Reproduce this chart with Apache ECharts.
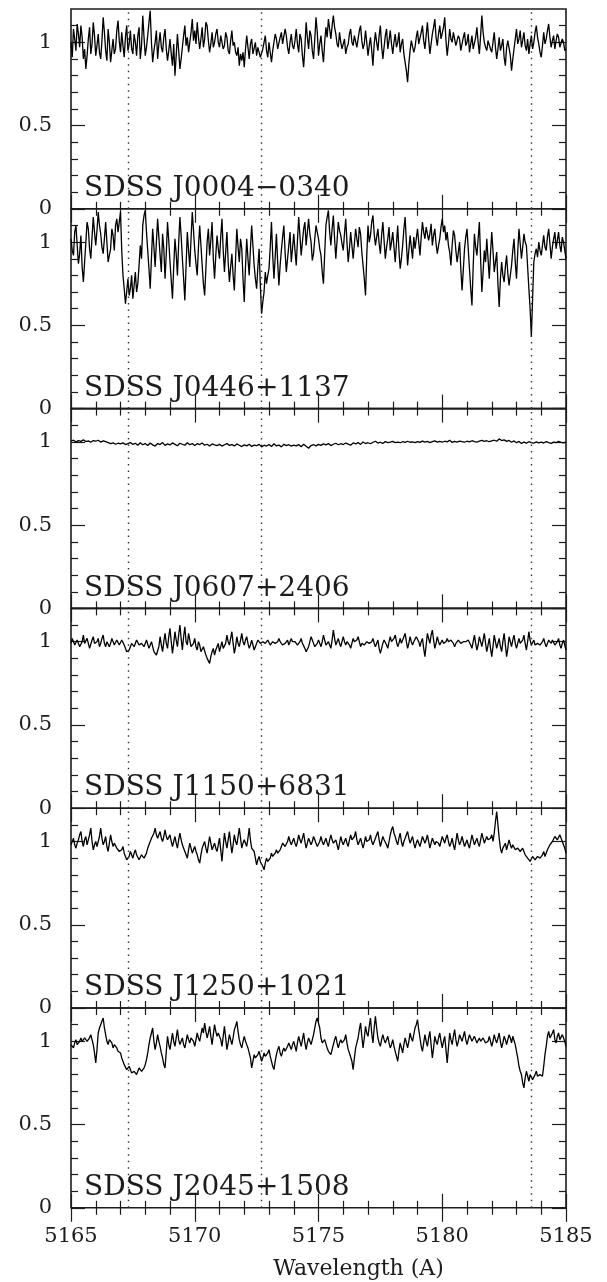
<!DOCTYPE html>
<html><head><meta charset="utf-8">
<script src="https://cdn.jsdelivr.net/npm/echarts@6/dist/echarts.min.js"></script>
<style>html,body{margin:0;padding:0;background:#fff}#c{width:607px;height:1282px}</style>
</head><body><div id="c"></div>
<script>
// ---------- data ----------
const waveStart = 5165;                                  // first sample (Angstrom)
const waveSteps = [0.05, 0.05, 0.1, 0.05, 0.05, 0.05];   // sampling of each spectrum (Angstrom)
const starNames = ['SDSS J0004\u22120340','SDSS J0446+1137','SDSS J0607+2406','SDSS J1150+6831','SDSS J1250+1021','SDSS J2045+1508'];
const mgLines = [5167.32, 5172.68, 5183.60];
const xMajorTicks = [5165, 5170, 5175, 5180, 5185];
const xMinorTicks = [5166,5167,5168,5169,5171,5172,5173,5174,5176,5177,5178,5179,5181,5182,5183,5184];
const yMajorTicks = [0, 0.5, 1];
const yMinorTicks = [0.1,0.2,0.3,0.4,0.6,0.7,0.8,0.9,1.1];

const fluxJ0004 = [
1.00,0.91,1.08,1.02,0.95,1.11,1.05,0.97,1.10,1.03,0.90,0.96,0.84,0.92,1.02,1.09,0.93,0.99,1.12,1.04,
0.92,0.98,1.05,0.94,0.90,1.01,1.15,1.06,0.95,0.89,1.08,1.00,0.88,0.95,1.02,0.93,0.96,1.07,1.13,1.01,
0.94,1.06,0.98,0.91,1.03,1.10,0.95,0.99,1.07,0.96,0.93,1.05,1.00,0.92,1.04,1.09,0.90,0.98,1.16,1.03,
0.92,0.97,1.04,1.12,1.19,1.00,0.88,0.95,1.00,1.07,0.90,0.99,1.06,0.97,0.94,1.03,1.08,0.96,0.89,0.95,
1.02,0.93,0.86,0.99,0.80,0.92,1.05,0.95,0.84,0.90,0.97,1.04,1.10,0.98,1.03,0.94,0.95,1.06,1.14,1.01,
1.07,0.99,1.12,1.03,0.96,1.02,1.09,0.97,1.02,1.12,1.10,1.01,0.94,0.99,1.06,0.97,1.00,1.05,1.08,1.00,
0.97,1.04,1.05,0.96,0.98,1.06,1.03,0.95,0.93,1.01,1.07,0.98,1.00,0.94,0.92,0.97,0.86,0.93,0.89,0.94,
0.85,0.96,1.04,0.97,0.90,0.99,1.02,0.93,0.94,1.00,0.92,0.97,0.98,0.91,0.90,0.96,1.00,1.04,0.95,0.91,
1.00,0.94,0.88,0.95,0.96,1.05,1.02,0.96,0.97,1.03,1.06,0.99,0.98,1.08,1.04,0.97,0.93,1.00,1.05,0.98,
0.96,1.01,1.08,0.99,0.94,1.05,1.02,0.92,0.85,0.97,1.12,1.03,0.96,1.07,1.04,0.95,0.90,1.02,1.15,1.06,
0.92,0.99,1.04,0.95,0.88,1.00,1.09,1.03,1.14,1.08,1.02,1.10,1.16,1.09,1.05,0.99,0.97,1.06,1.00,0.96,
0.95,1.02,0.93,0.97,0.99,1.05,1.08,1.00,0.98,1.04,1.05,0.97,1.02,1.07,1.10,1.01,0.96,0.99,1.07,1.00,
0.92,0.98,1.03,0.95,0.86,0.99,1.06,1.00,0.95,1.04,1.10,0.98,0.90,0.97,1.04,1.08,0.96,1.01,1.07,0.99,
0.93,1.00,1.05,0.97,1.00,1.06,0.94,0.99,1.02,0.93,0.88,0.83,0.76,0.87,0.95,1.01,1.02,0.94,0.97,1.03,
1.07,0.99,1.00,1.06,1.10,1.01,0.96,1.04,1.12,1.02,0.93,0.99,1.05,1.09,1.14,1.03,0.98,1.05,1.10,1.02,
1.03,1.09,1.15,1.01,0.92,0.99,1.08,1.02,1.00,1.06,1.05,0.98,0.97,1.04,1.02,0.95,0.96,1.03,1.06,0.98,
1.00,1.05,0.94,0.99,1.04,0.96,0.97,1.03,1.09,1.00,0.93,1.04,1.16,1.06,1.00,0.97,0.95,1.01,1.02,0.96,
0.94,1.00,1.06,0.97,0.90,0.96,1.03,0.95,0.98,1.02,0.91,0.86,0.97,1.01,1.00,0.92,0.83,0.90,0.96,1.02,
1.08,0.99,1.02,1.07,0.97,1.01,1.06,0.98,0.95,1.02,0.93,0.99,1.04,0.96,1.00,1.06,1.10,1.03,0.99,0.94,
0.91,0.98,1.06,0.99,1.02,1.07,1.11,1.03,0.97,1.01,1.04,0.96,1.01,1.05,1.03,0.97,0.98,1.02,1.00,0.95,0.96];

const fluxJ0446 = [
1.02,0.95,0.92,1.06,1.10,0.98,0.87,0.93,1.04,0.85,0.76,0.88,1.00,1.12,1.08,0.96,0.90,1.03,1.15,1.06,
0.98,1.07,1.18,1.10,1.05,0.97,0.93,1.02,1.12,1.00,0.88,0.92,0.96,1.08,1.04,0.95,1.10,1.14,1.06,1.12,
1.18,0.95,0.80,0.72,0.63,0.70,0.78,0.68,0.72,0.80,0.66,0.74,0.82,0.70,0.75,0.86,0.98,0.90,1.10,1.16,
1.19,1.06,0.95,0.84,0.72,0.90,1.08,0.97,0.85,1.00,1.14,1.03,0.92,0.82,1.05,0.96,0.78,0.93,1.12,1.01,
0.88,0.77,0.66,0.85,1.02,0.93,0.80,0.99,1.15,1.04,0.90,0.78,0.65,0.86,1.06,0.95,0.85,1.02,1.18,1.07,
0.95,0.87,0.80,0.97,1.10,0.98,0.86,0.75,0.68,0.84,1.00,1.08,0.92,1.01,1.12,0.90,0.78,0.92,1.04,0.96,
0.90,1.03,1.14,0.95,0.82,0.94,1.06,0.88,0.76,0.85,0.93,0.80,0.71,0.90,1.08,0.97,0.88,1.02,0.96,0.78,
0.64,0.85,1.02,0.90,0.80,0.96,1.10,0.98,0.86,0.78,0.72,0.85,0.96,0.74,0.57,0.64,0.70,0.82,0.75,0.80,
0.84,0.97,1.12,0.92,0.78,0.91,1.05,0.88,0.74,0.86,0.95,1.03,1.10,0.94,0.82,0.90,0.98,1.06,0.88,0.96,
1.05,0.95,0.86,1.01,1.15,1.04,0.92,1.00,1.08,1.12,0.98,1.06,1.14,1.05,1.00,0.89,0.93,1.02,1.10,1.06,
1.02,0.96,0.92,0.82,0.75,0.93,1.10,1.15,1.19,1.06,0.98,1.08,1.16,1.02,0.90,1.01,1.12,1.07,1.04,0.99,
0.95,1.05,1.14,1.00,0.88,0.96,1.06,0.98,0.90,0.99,1.08,1.02,0.97,1.09,1.05,0.94,0.86,0.78,0.68,0.92,
1.10,1.00,1.04,1.12,1.16,1.05,0.98,1.03,1.08,0.99,0.93,1.04,1.12,1.01,0.90,0.97,1.02,1.09,0.95,1.00,
1.06,0.97,0.88,0.99,1.10,0.95,0.84,0.90,0.98,1.08,1.15,1.00,0.86,0.95,1.04,0.97,0.90,1.03,0.96,1.02,
1.08,1.00,0.92,1.03,1.12,1.06,1.02,1.09,1.10,1.01,1.05,1.11,0.98,1.04,1.08,0.99,0.93,0.98,1.02,1.09,
1.14,1.06,1.10,1.01,1.06,0.98,0.94,0.86,0.98,1.07,1.04,0.95,0.88,0.94,1.00,0.84,0.71,0.83,0.96,1.03,
1.08,0.96,0.84,0.72,0.62,0.85,1.05,0.97,0.92,1.02,1.12,0.90,0.70,0.82,0.95,0.88,1.02,0.90,0.78,0.93,
1.06,0.95,0.82,0.88,0.94,0.75,0.61,0.78,0.88,0.80,0.76,0.85,0.92,0.81,0.74,0.80,0.86,0.95,1.02,0.88,
0.78,0.94,1.08,0.99,0.90,0.97,1.05,1.00,0.98,0.85,0.72,0.60,0.43,0.66,0.88,0.93,0.96,0.91,1.00,0.95,
0.92,0.98,1.04,0.97,0.95,1.03,1.08,0.99,0.90,0.97,1.02,1.06,0.96,1.01,1.06,0.98,0.94,1.03,1.00,0.95,0.90];

const fluxJ0607 = [
1.005,1.010,1.000,1.008,1.003,1.012,1.002,1.006,0.998,1.008,
1.004,1.010,0.999,1.006,1.001,0.996,0.990,0.994,0.986,0.992,
0.988,0.994,0.984,0.990,0.996,0.985,0.992,0.980,0.995,0.983,
0.990,0.978,0.993,0.982,0.975,0.990,0.984,0.996,0.979,0.988,
0.982,0.994,0.985,0.977,0.992,0.986,0.980,0.995,0.983,0.990,
0.978,0.989,0.984,0.993,0.980,0.986,0.975,0.988,0.982,0.978,
0.985,0.975,0.983,0.990,0.979,0.984,0.976,0.988,0.980,0.972,
0.982,0.976,0.986,0.973,0.981,0.977,0.985,0.970,0.980,0.975,
0.984,0.972,0.989,0.976,0.981,0.970,0.986,0.978,0.983,0.975,
0.980,0.976,0.984,0.971,0.986,0.974,0.962,0.978,0.983,0.976,
0.985,0.979,0.988,0.982,0.990,0.978,0.986,0.992,0.983,0.989,
0.984,0.993,0.987,0.980,0.994,0.988,0.996,0.985,0.999,0.990,
0.995,0.989,0.998,1.004,0.993,0.998,0.991,1.002,0.996,0.999,
1.003,0.996,0.999,0.995,1.001,0.997,1.004,0.998,1.000,0.996,
1.002,0.997,1.005,0.999,1.003,0.996,1.001,1.006,0.999,1.003,
0.998,1.004,1.000,1.010,0.997,1.003,0.999,1.005,1.001,0.998,
1.004,1.000,1.007,1.002,0.998,1.005,1.009,1.003,1.007,1.001,
1.006,1.010,1.004,1.018,1.008,1.012,1.003,1.009,0.998,1.006,
0.995,1.003,0.990,0.999,0.993,1.001,0.996,0.992,1.000,0.994,
0.999,0.993,1.002,0.996,0.991,0.999,0.995,1.003,0.997,0.994,0.998];

const fluxJ1150 = [
0.99,1.02,1.03,0.98,0.97,1.01,1.02,0.97,0.96,1.00,1.04,0.99,0.98,1.02,1.01,0.96,0.97,1.01,1.03,0.99,
0.98,1.00,1.02,0.97,0.99,1.02,1.04,0.99,0.97,1.00,1.01,0.97,0.99,1.02,1.03,0.98,0.98,1.01,1.02,0.98,
0.99,1.01,1.02,0.98,0.96,0.94,0.93,0.95,0.97,0.99,1.00,0.97,0.98,1.01,1.01,0.98,0.97,0.99,1.00,0.97,
0.98,1.01,1.01,0.96,0.97,1.00,0.99,0.94,0.95,0.92,0.91,0.97,1.03,0.98,0.94,1.00,1.05,0.99,0.96,1.03,
1.08,1.00,0.93,0.99,1.06,1.01,0.97,1.04,1.10,1.02,0.95,1.03,1.09,1.00,0.98,1.05,1.04,0.97,0.96,0.99,
1.02,0.97,0.95,1.00,0.98,0.94,0.93,0.97,0.96,0.92,0.90,0.89,0.87,0.91,0.94,0.96,0.92,0.95,0.97,0.99,
0.94,0.97,1.00,0.96,0.95,0.99,1.04,1.00,0.98,1.02,1.06,0.99,0.93,0.97,1.03,0.99,0.97,1.01,1.05,1.00,
0.98,1.01,1.03,0.99,0.96,0.98,1.01,0.98,0.95,0.97,0.99,1.01,1.02,0.99,0.98,1.00,1.01,0.99,0.99,1.01,
1.00,0.98,0.97,1.00,1.01,0.99,0.98,1.00,1.02,1.00,0.99,0.98,0.97,0.99,1.00,1.01,0.98,1.00,1.02,1.00,
0.99,1.00,1.01,0.98,0.97,1.00,1.02,0.99,0.98,0.96,0.94,0.95,0.97,1.00,1.03,1.01,0.99,0.97,0.96,0.99,
1.01,0.99,0.97,1.00,1.04,1.01,0.98,0.99,1.00,0.98,0.96,1.01,1.07,1.02,0.98,1.00,1.02,0.99,0.97,1.00,
1.03,1.00,0.98,1.00,1.01,0.98,0.96,0.99,1.02,1.00,0.99,1.01,1.03,1.00,0.97,0.99,1.00,0.98,0.98,1.00,
1.01,0.99,0.98,1.00,1.02,0.99,0.97,0.99,1.01,0.96,0.93,0.96,0.99,1.01,1.02,0.98,0.96,1.00,1.03,1.00,
0.99,1.02,1.04,1.00,0.97,0.99,1.02,0.99,1.00,1.03,1.05,1.00,0.96,0.99,1.03,1.00,0.98,1.00,1.01,1.03,
1.04,1.00,0.97,1.00,1.02,0.96,0.91,0.98,1.05,1.02,0.99,1.04,1.07,1.01,0.96,0.99,1.03,1.00,0.98,0.99,
1.01,0.99,0.98,1.00,1.02,1.00,0.99,1.01,1.01,0.99,0.97,0.99,1.00,1.01,1.02,0.99,0.98,1.00,1.01,1.00,
0.99,1.01,1.02,0.98,0.96,1.00,1.04,0.99,0.95,0.98,1.03,1.00,0.97,1.01,1.05,0.99,0.94,0.98,1.02,0.96,
0.91,0.97,1.04,1.00,0.96,0.99,1.02,0.97,0.94,1.00,1.05,0.98,0.91,0.96,1.03,1.00,0.97,1.01,1.04,0.99,
0.96,0.99,1.02,0.99,0.98,1.01,1.04,0.99,0.95,1.00,1.06,1.01,0.98,0.99,1.01,0.98,0.97,0.99,1.00,0.98,
0.99,1.00,1.02,0.99,0.97,0.99,1.01,1.00,0.99,1.01,1.00,0.98,0.98,1.00,1.02,0.98,0.96,0.99,1.01,0.98,0.95];

const fluxJ1250 = [
0.98,1.00,1.02,0.98,0.96,0.99,1.01,1.04,1.06,1.00,0.97,1.01,1.03,0.98,0.99,1.04,1.08,1.00,0.95,0.98,
1.00,0.97,0.96,1.03,1.08,1.02,0.98,1.00,1.03,0.97,0.94,0.99,1.04,1.00,0.97,0.99,0.99,0.96,0.95,0.94,
0.93,0.95,0.97,0.93,0.91,0.89,0.88,0.91,0.94,0.92,0.90,0.93,0.95,0.92,0.91,0.89,0.89,0.92,0.93,0.90,
0.91,0.93,0.96,0.98,0.99,1.02,1.03,1.05,1.08,1.04,1.02,1.04,1.06,1.02,1.00,1.03,1.07,1.03,1.01,1.00,
1.04,1.00,0.97,1.00,1.03,0.99,0.96,1.01,1.05,1.01,0.98,0.96,0.95,0.92,0.90,0.95,0.99,0.96,0.93,0.95,
0.97,0.94,0.92,0.89,0.87,0.92,0.96,0.98,1.00,0.96,0.93,0.98,1.03,0.99,0.95,0.97,0.99,0.96,0.94,0.98,
1.02,0.95,0.88,0.97,1.05,1.00,0.96,1.01,1.06,0.99,0.93,0.98,1.04,1.00,0.98,1.03,1.08,1.02,0.96,0.99,
1.01,0.99,0.97,1.02,1.08,1.01,0.96,0.95,0.94,0.90,0.86,0.89,0.91,0.88,0.89,0.85,0.83,0.87,0.90,0.88,
0.87,0.90,0.93,0.91,0.90,0.93,0.95,0.93,0.92,0.95,0.97,0.99,1.00,0.97,0.96,1.00,1.03,1.00,0.98,1.00,
1.02,0.99,0.97,1.00,1.04,1.01,0.99,1.02,1.05,1.00,0.96,0.99,1.02,1.00,0.98,1.00,1.03,1.01,0.99,0.97,
0.96,1.00,1.03,1.00,0.98,1.00,1.02,0.99,0.97,1.01,1.04,1.01,0.99,1.00,1.01,0.98,0.95,0.99,1.03,1.00,
0.98,1.00,1.02,0.99,0.97,1.01,1.04,1.01,1.00,1.03,1.06,1.01,0.98,1.00,1.02,0.99,0.96,0.99,1.03,1.00,
0.99,1.01,1.04,1.00,0.98,1.00,1.02,1.04,1.06,1.01,0.97,1.00,1.03,1.01,1.00,0.98,0.96,1.00,1.04,1.07,
1.09,1.05,1.03,1.00,0.98,1.02,1.05,1.00,0.97,1.00,1.02,1.04,1.06,1.02,0.99,1.01,1.03,0.99,0.96,0.99,
1.01,0.99,0.97,1.00,1.03,1.01,0.99,1.01,1.04,1.00,0.96,0.99,1.02,1.00,0.98,1.00,1.01,0.99,0.97,1.00,
1.03,1.01,0.99,1.02,1.04,1.00,0.97,0.99,1.02,0.98,0.95,1.00,1.05,1.01,0.98,1.00,1.03,1.00,0.97,0.99,
1.01,0.98,0.96,1.00,1.04,1.01,0.98,1.00,1.02,0.99,0.97,1.01,1.05,1.02,0.99,1.01,1.03,1.01,1.00,1.02,
1.04,1.00,1.05,1.12,1.18,1.10,1.02,0.96,0.93,0.96,0.97,0.99,0.95,0.98,1.01,0.98,0.96,0.98,0.98,0.95,
0.94,0.96,0.97,0.94,0.93,0.96,0.95,0.92,0.92,0.90,0.90,0.88,0.89,0.91,0.91,0.89,0.89,0.91,0.92,0.90,
0.90,0.92,0.94,0.91,0.92,0.95,0.96,0.98,0.97,1.00,1.00,1.03,1.04,1.01,1.02,1.04,1.03,1.00,0.99,0.96,0.93];

const fluxJ2045 = [
0.98,0.97,0.96,0.99,1.01,0.98,0.97,1.00,1.02,1.00,0.99,1.02,1.03,1.00,1.00,1.02,1.04,1.01,0.98,0.93,
0.87,0.95,1.05,1.08,1.10,1.12,1.14,1.08,1.04,1.00,0.98,1.01,1.02,0.99,0.96,0.98,0.99,0.96,0.94,0.95,
0.93,0.90,0.89,0.86,0.85,0.83,0.82,0.85,0.84,0.81,0.80,0.82,0.83,0.80,0.81,0.84,0.85,0.82,0.82,0.84,
0.86,0.89,0.93,0.98,1.02,1.05,1.08,1.00,0.95,0.99,1.04,1.00,0.97,0.93,0.90,0.86,0.84,0.94,1.03,0.98,
0.95,1.00,1.05,1.00,0.97,1.02,1.07,1.01,0.98,1.00,1.02,0.98,0.96,1.00,1.04,1.01,0.99,1.02,1.03,1.00,
0.97,1.01,1.05,1.02,1.00,1.04,1.08,1.05,1.11,1.06,1.02,1.05,1.09,1.03,0.98,1.04,1.10,1.06,1.03,1.05,
1.06,1.01,0.97,1.03,1.09,1.02,0.95,0.99,1.04,1.01,0.98,1.02,1.07,1.09,1.12,1.06,1.01,0.98,0.96,1.00,
1.03,1.00,0.98,0.96,0.95,0.90,0.84,0.88,0.92,0.90,0.89,0.92,0.94,0.91,0.88,0.90,0.93,0.91,0.90,0.93,
0.95,0.91,0.88,0.85,0.83,0.88,0.92,0.95,0.97,0.93,0.91,0.94,0.96,0.94,0.93,0.97,0.99,0.97,0.95,0.98,
1.00,0.97,0.94,0.99,1.03,1.00,0.97,1.01,1.05,0.99,0.95,0.99,1.02,1.00,0.98,1.01,1.04,1.08,1.12,1.14,
1.13,1.08,1.02,0.99,0.98,1.01,1.00,0.96,0.94,0.93,0.92,0.95,0.98,1.01,1.03,0.99,0.96,0.99,1.01,0.99,
0.98,1.01,1.04,0.99,0.95,0.93,0.92,0.88,0.83,0.90,0.96,0.99,1.02,1.07,1.11,1.03,0.96,1.02,1.09,1.05,
1.03,1.09,1.14,1.05,0.99,1.08,1.15,1.08,1.02,0.99,0.97,1.01,1.04,1.01,0.99,1.01,1.03,0.99,0.96,0.98,
1.01,0.97,0.94,0.91,0.88,0.94,0.99,0.96,0.93,0.98,1.02,0.99,0.96,1.00,1.05,1.02,1.00,1.04,1.08,1.10,
1.13,1.07,1.02,0.97,0.94,0.99,1.04,1.00,0.97,1.02,1.06,0.98,0.90,0.96,1.03,1.00,0.98,1.02,1.05,1.00,
0.96,1.00,1.03,0.95,0.87,0.96,1.05,1.01,0.98,1.03,1.07,1.01,0.97,1.00,1.04,1.02,1.00,1.03,1.06,1.01,
0.98,1.01,1.04,1.02,1.00,1.01,1.03,1.01,0.99,1.00,1.02,1.00,1.00,1.02,1.01,0.99,0.98,1.00,1.03,1.00,
0.97,1.00,1.04,1.01,0.99,1.02,1.05,1.00,0.96,0.99,1.03,1.01,0.98,1.01,1.04,1.02,0.99,1.03,1.02,0.98,
0.94,0.90,0.85,0.82,0.80,0.75,0.72,0.78,0.82,0.79,0.76,0.80,0.80,0.77,0.77,0.80,0.82,0.79,0.78,0.80,
0.81,0.79,0.85,0.92,0.97,1.03,1.06,1.02,1.01,1.05,1.07,1.01,0.99,1.03,1.05,1.01,1.02,1.04,1.04,1.00,0.97];

const spectra = [fluxJ0004, fluxJ0446, fluxJ0607, fluxJ1150, fluxJ1250, fluxJ2045];

// ---------- layout ----------
const FONT = 'DejaVu Serif';
const INK = '#1c1c1c';
const panelTop = 9, panelH = 199.8, gridLeft = 71, gridRight = 41;
const nP = spectra.length;

const grids = [], xAxes = [], yAxes = [], series = [], titles = [];
for (let i = 0; i < nP; i++) {
  const top = panelTop + panelH * i;
  grids.push({left: gridLeft, right: gridRight, top: top, height: panelH,
    show: true, borderColor: INK, borderWidth: 1.6, backgroundColor: 'transparent'});
  const last = (i === nP - 1);
  const mkX = (pos, ticks, len, withLabel) => ({
    type: 'value', gridIndex: i, position: pos, min: 5165, max: 5185,
    axisLine: {show: false}, splitLine: {show: false},
    axisTick: {show: true, inside: true, length: len, customValues: ticks, lineStyle: {color: INK, width: 1.2}},
    axisLabel: withLabel ? {show: true, customValues: xMajorTicks, margin: 18, color: INK,
      fontFamily: FONT, fontSize: 21, formatter: v => String(v)} : {show: false},
    name: withLabel ? 'Wavelength (A)' : '', nameLocation: 'middle', nameGap: 50,
    nameTextStyle: {fontFamily: FONT, fontSize: 22, color: INK, padding: [0, 0, 0, 80]}
  });
  xAxes.push(mkX('bottom', xMajorTicks, 14, last));
  xAxes.push(mkX('bottom', xMinorTicks, 7, false));
  xAxes.push(mkX('top', xMajorTicks, 14, false));
  xAxes.push(mkX('top', xMinorTicks, 7, false));
  const mkY = (pos, ticks, len, withLabel) => ({
    type: 'value', gridIndex: i, position: pos, min: 0, max: 1.2,
    axisLine: {show: false}, splitLine: {show: false},
    axisTick: {show: true, inside: true, length: len, customValues: ticks, lineStyle: {color: INK, width: 1.2}},
    axisLabel: withLabel ? {show: true, customValues: yMajorTicks, margin: 19, color: INK,
      fontFamily: FONT, fontSize: 21, formatter: v => String(v)} : {show: false}
  });
  yAxes.push(mkY('left', yMajorTicks, 14, true));
  yAxes.push(mkY('left', yMinorTicks, 7, false));
  yAxes.push(mkY('right', yMajorTicks, 14, false));
  yAxes.push(mkY('right', yMinorTicks, 7, false));

  const flux = spectra[i], step = waveSteps[i];
  const pts = flux.map((v, k) => [Math.round((waveStart + k * step) * 1000) / 1000, v]);
  series.push({
    type: 'line', xAxisIndex: 4 * i, yAxisIndex: 4 * i, data: pts,
    showSymbol: false, symbol: 'none', clip: true,
    lineStyle: {color: '#000', width: 1.3},
    markLine: {silent: true, symbol: ['none', 'none'], label: {show: false},
      lineStyle: {type: [1.5, 5], color: '#333', width: 1.4},
      data: mgLines.map(w => ({xAxis: w}))}
  });
  titles.push({text: starNames[i], left: 84, top: top + panelH - 34, padding: 0,
    textStyle: {fontFamily: FONT, fontSize: 28, fontWeight: 'normal', color: INK, lineHeight: 28}});
}

const chart = echarts.init(document.getElementById('c'), null, {renderer: 'canvas'});
chart.setOption({
  animation: false, backgroundColor: '#fff',
  title: titles, grid: grids, xAxis: xAxes, yAxis: yAxes, series: series
});
</script></body></html>
